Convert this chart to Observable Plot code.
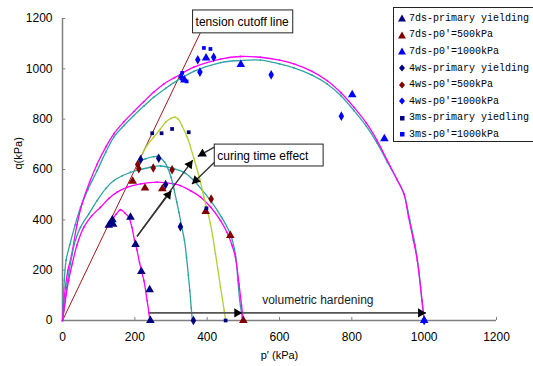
<!DOCTYPE html>
<html>
<head>
<meta charset="utf-8">
<script src="https://cdn.jsdelivr.net/npm/d3@7"></script>
<script src="https://cdn.jsdelivr.net/npm/@observablehq/plot@0.6"></script>
<style>
  html, body { margin: 0; padding: 0; background: white; overflow: hidden; }
  #wrap { position: relative; width: 533px; height: 366px; overflow: hidden; }
  #legend { position: absolute; left: 393px; top: 7px; width: 150px; height: 135px;
    border: 1px solid #222; background: white; box-sizing: border-box;
    font-family: "Liberation Mono", "DejaVu Sans Mono", monospace; font-size: 10px; color: #000; padding-top: 2px; }
  .row { height: 16.6px; display: flex; align-items: center; white-space: nowrap; }
  .row svg { margin-left: 4px; margin-right: 3px; }
</style>
</head>
<body>
<div id="wrap"><div id="chart"></div><div id="legend"></div></div>
<script>
// ---------- data (p', q in kPa) ----------
const xTicks = [0, 200, 400, 600, 800, 1000, 1200];
const yTicks = [0, 200, 400, 600, 800, 1000, 1200];

const legendLabels = [
  "7ds-primary yielding", "7ds-p0′=500kPa", "7ds-p0′=1000kPa",
  "4ws-primary yielding", "4ws-p0′=500kPa", "4ws-p0′=1000kPa",
  "3ms-primary yiedling", "3ms-p0′=1000kPa"
];

// measured points
const p7dsPrimary = [128, 133, 138, 140, 188, 202, 218, 241, 243];
const q7dsPrimary = [378, 386, 400, 382, 410, 302, 195, 122, 0];
const p7ds500 = [194, 228, 276, 396, 464, 500];
const q7ds500 = [553, 526, 523, 433, 338, 0];
const p7ds1000 = [337, 397, 493, 801, 890, 1000];
const q7ds1000 = [956, 1043, 1017, 897, 722, 0];
const p4wsPrimary = [216, 266, 285, 326, 362];
const q4wsPrimary = [640, 645, 540, 373, 0];
const p4ws500 = [208, 211, 251, 303, 411];
const q4ws500 = [620, 603, 606, 599, 483];
const p4ws1000 = [328, 374, 380, 418, 577, 771, 1000];
const q4ws1000 = [969, 1036, 987, 1046, 976, 812, 0];
const p3msPrimary = [248, 274, 303, 349, 398, 451];
const q3msPrimary = [744, 744, 761, 748, 446, 0];
const p3ms1000 = [331, 343, 391, 409, 1000];
const q3ms1000 = [984, 950, 1083, 1079, 0];

// fitted yield curves
const pCurve7dsPrimary = [137, 148, 160, 172, 183, 192, 199, 206, 213, 225, 234, 239, 241];
const qCurve7dsPrimary = [400, 422, 440, 428, 411, 370, 320, 280, 230, 159, 79, 30, 0];
const pCurve7ds500 = [0, 8, 17, 27, 40, 59, 80, 105, 128, 151, 180, 216, 262, 308, 326, 355, 382, 410, 437, 455, 469, 478, 488, 495, 500];
const qCurve7ds500 = [0, 80, 160, 225, 300, 371, 415, 450, 485, 510, 530, 543, 550, 543, 536, 515, 490, 450, 397, 350, 298, 252, 146, 60, 0];
const pCurve7ds1000 = [0, 3, 8, 15, 25, 40, 54, 75, 96, 120, 142, 170, 197, 225, 252, 280, 310, 363, 437, 492, 547, 600, 640, 690, 732, 770, 806, 840, 870, 898, 925, 944, 957, 970, 981, 994, 1000];
const qCurve7ds1000 = [0, 60, 130, 200, 260, 380, 463, 550, 622, 690, 742, 790, 830, 870, 907, 940, 965, 1007, 1039, 1049, 1046, 1035, 1020, 990, 953, 905, 847, 785, 715, 636, 560, 503, 410, 320, 238, 79, 0];
const pCurve4wsPrimary = [206, 218, 229, 252, 262, 271, 282, 290, 300, 308, 316, 322, 330, 337, 343, 348, 352, 356, 359];
const qCurve4wsPrimary = [622, 635, 642, 651, 652, 646, 630, 609, 570, 523, 470, 430, 370, 320, 250, 180, 119, 50, 0];
const pCurve4ws500 = [0, 4, 13, 27, 36, 50, 73, 96, 120, 142, 165, 188, 215, 243, 271, 308, 340, 363, 385, 409, 440, 464, 478, 485, 490, 497, 500];
const qCurve4ws500 = [0, 40, 146, 265, 320, 371, 424, 477, 525, 556, 575, 589, 600, 609, 614, 603, 585, 556, 520, 477, 410, 344, 265, 159, 80, 13, 0];
const pCurve4ws1000 = [0, 2, 5, 10, 20, 35, 50, 70, 96, 120, 142, 170, 197, 225, 252, 285, 317, 363, 437, 492, 547, 600, 640, 690, 732, 770, 806, 840, 870, 898, 925, 944, 960, 975, 985, 994, 1000];
const qCurve4ws1000 = [0, 80, 160, 240, 300, 380, 450, 520, 596, 670, 729, 775, 814, 852, 887, 922, 953, 990, 1025, 1033, 1035, 1020, 1004, 975, 940, 893, 834, 772, 705, 630, 560, 505, 400, 300, 200, 79, 0];
const pCurve3msPrimary = [222, 235, 252, 270, 285, 300, 312, 320, 330, 345, 363, 380, 391, 409, 423, 437, 447, 451];
const qCurve3msPrimary = [665, 698, 728, 760, 788, 803, 808, 800, 775, 728, 645, 560, 490, 384, 265, 132, 40, 0];

// annotations (data units)
const pTension = [0, 400];
const qTension = [0, 1200];
const tensionBox = {p1: 361, p2: 638, q1: 1141, q2: 1232, label: "tension cutoff line", p: 368, q: 1186};
const curingBox = {p1: 421, p2: 722, q1: 612, q2: 699, label: "curing time effect", p: 428, q: 655};
const volLabel = {label: "volumetric hardening", p: 706, q: 79};
const volArrows = [
  {p1: 240, q1: 30, p2: 497, q2: 30},
  {p1: 497, q1: 30, p2: 1005, q2: 30}
];
const curingArrows = [
  {p1: 206, q1: 334, p2: 360, q2: 637},
  {p1: 206, q1: 334, p2: 301, q2: 516},
  {p1: 421, q1: 690, p2: 374, q2: 652},
  {p1: 421, q1: 630, p2: 358, q2: 542}
];

// ---------- build ----------
const W = 533, H = 366, ML = 62, MR = 37, MT = 18, MB = 46;
const kx = (W - ML - MR) / 1200, ky = (H - MT - MB) / 1200;
const NAVY = "#000080", DRED = "#800000", BLUE = "#0000ff";
const MAG = "#ff00ff", TEAL = "#2fa3a3", YG = "#b0d030";

const zip = (ps, qs) => ps.map((p, i) => ({p, q: qs[i]}));

const pointSeries = [
  {label: legendLabels[0], rows: zip(p7dsPrimary, q7dsPrimary), symbol: "triangle", color: NAVY, r: 3.2},
  {label: legendLabels[1], rows: zip(p7ds500, q7ds500), symbol: "triangle", color: DRED, r: 3.2},
  {label: legendLabels[2], rows: zip(p7ds1000, q7ds1000), symbol: "triangle", color: BLUE, r: 3.2},
  {label: legendLabels[3], rows: zip(p4wsPrimary, q4wsPrimary), symbol: "diamond", color: NAVY, r: 2.9},
  {label: legendLabels[4], rows: zip(p4ws500, q4ws500), symbol: "diamond", color: DRED, r: 2.9},
  {label: legendLabels[5], rows: zip(p4ws1000, q4ws1000), symbol: "diamond", color: BLUE, r: 2.9},
  {label: legendLabels[6], rows: zip(p3msPrimary, q3msPrimary), symbol: "square", color: NAVY, r: 2.1},
  {label: legendLabels[7], rows: zip(p3ms1000, q3ms1000), symbol: "square", color: BLUE, r: 2.1}
];

const curves = [
  {rows: zip(pCurve4ws1000, qCurve4ws1000), color: TEAL},
  {rows: zip(pCurve7ds1000, qCurve7ds1000), color: MAG},
  {rows: zip(pCurve4ws500, qCurve4ws500), color: TEAL},
  {rows: zip(pCurve7ds500, qCurve7ds500), color: MAG},
  {rows: zip(pCurve4wsPrimary, qCurve4wsPrimary), color: TEAL},
  {rows: zip(pCurve3msPrimary, qCurve3msPrimary), color: YG},
  {rows: zip(pCurve7dsPrimary, qCurve7dsPrimary), color: MAG}
];

const headR = 3.4;
function heads(arr) {
  const size = Math.PI * headR * headR;
  const h = Math.sqrt(size / (3 * Math.sqrt(3)));
  const tip = 2 * h;
  return arr.map(a => {
    const dx = (a.p2 - a.p1) * kx, dy = (a.q2 - a.q1) * ky;
    const L = Math.hypot(dx, dy), ux = dx / L, uy = dy / L;
    return {p: a.p2 - ux * tip / kx, q: a.q2 - uy * tip / ky, rot: Math.atan2(dx, dy) * 180 / Math.PI};
  });
}

const marks = [
  // axis lines + inward ticks
  Plot.ruleY([0], {x1: 0, x2: 1200, stroke: "#808080", strokeWidth: 1.5}),
  Plot.ruleX([0], {y1: 0, y2: 1200, stroke: "#808080", strokeWidth: 1.5}),
  Plot.ruleX(xTicks, {y1: 0, y2: 12, stroke: "#808080", strokeWidth: 1}),
  Plot.ruleY(yTicks, {x1: 0, x2: 9, stroke: "#808080", strokeWidth: 1}),
  Plot.axisX({ticks: xTicks, tickFormat: d3.format("d"), tickSize: 0, tickPadding: 12, label: null, fontSize: 12}),
  Plot.axisY({ticks: yTicks, tickFormat: d3.format("d"), tickSize: 0, tickPadding: 10, label: null, fontSize: 12}),
  Plot.text(["q(kPa)"], {text: d => d, frameAnchor: "left", dx: -44, rotate: -90, fontSize: 11, fontFamily: "Liberation Sans, Arial"}),
  Plot.text(["p′ (kPa)"], {text: d => d, frameAnchor: "bottom", dy: 38, fontSize: 11, fontFamily: "Liberation Sans, Arial"}),
  // tension cutoff line
  Plot.line(zip(pTension, qTension), {x: "p", y: "q", stroke: "#a01818", strokeWidth: 1})
];

for (const c of curves) {
  marks.push(Plot.line(c.rows, {x: "p", y: "q", stroke: c.color, strokeWidth: 1.3, curve: "catmull-rom"}));
  marks.push(Plot.dot(c.rows, {x: "p", y: "q", fill: c.color, r: 0.9}));
}

for (const s of pointSeries) {
  marks.push(Plot.dot(s.rows, {x: "p", y: "q", symbol: s.symbol, fill: s.color, r: s.r}));
}

// volumetric hardening arrows
marks.push(Plot.link(volArrows, {x1: "p1", y1: "q1", x2: "p2", y2: "q2", stroke: "#555", strokeWidth: 1.8}));
marks.push(Plot.dot(heads(volArrows), {x: "p", y: "q", rotate: "rot", symbol: "triangle", fill: "#000", r: headR}));
marks.push(Plot.text([volLabel], {x: "p", y: "q", text: "label", fontSize: 12, fontFamily: "Liberation Sans, Arial", fill: "#222"}));

// curing time arrows
marks.push(Plot.link(curingArrows, {x1: "p1", y1: "q1", x2: "p2", y2: "q2", stroke: "#333", strokeWidth: 1.4}));
marks.push(Plot.dot(heads(curingArrows), {x: "p", y: "q", rotate: "rot", symbol: "triangle", fill: "#000", r: headR}));

// label boxes
for (const b of [tensionBox, curingBox]) {
  marks.push(Plot.rect([b], {x1: "p1", x2: "p2", y1: "q1", y2: "q2", fill: "white", stroke: "#222", strokeWidth: 1}));
  marks.push(Plot.text([b], {x: "p", y: "q", text: "label", textAnchor: "start", fontSize: 12, fontFamily: "Liberation Sans, Arial", fill: "#000"}));
}

const chart = Plot.plot({
  width: W, height: H,
  marginLeft: ML, marginRight: MR, marginTop: MT, marginBottom: MB,
  x: {domain: [0, 1200]},
  y: {domain: [0, 1200]},
  style: {fontFamily: "Liberation Sans, Arial, sans-serif", fontSize: "12px", color: "#000", background: "white", overflow: "visible"},
  marks
});
document.getElementById("chart").appendChild(chart);

// legend
const legend = document.getElementById("legend");
function symbolSvg(sym, color) {
  let shape;
  if (sym === "triangle") shape = `<path d="M4,0.5 L8,7.5 L0,7.5 Z" fill="${color}"/>`;
  else if (sym === "diamond") shape = `<path d="M4,0.5 L7,4 L4,7.5 L1,4 Z" fill="${color}"/>`;
  else shape = `<rect x="2" y="2" width="4.5" height="4.5" fill="${color}"/>`;
  return `<svg width="8" height="8" viewBox="0 0 8 8">${shape}</svg>`;
}
for (const s of pointSeries) {
  const row = document.createElement("div");
  row.className = "row";
  row.innerHTML = symbolSvg(s.symbol, s.color) + `<span>${s.label}</span>`;
  legend.appendChild(row);
}
</script>
</body>
</html>
